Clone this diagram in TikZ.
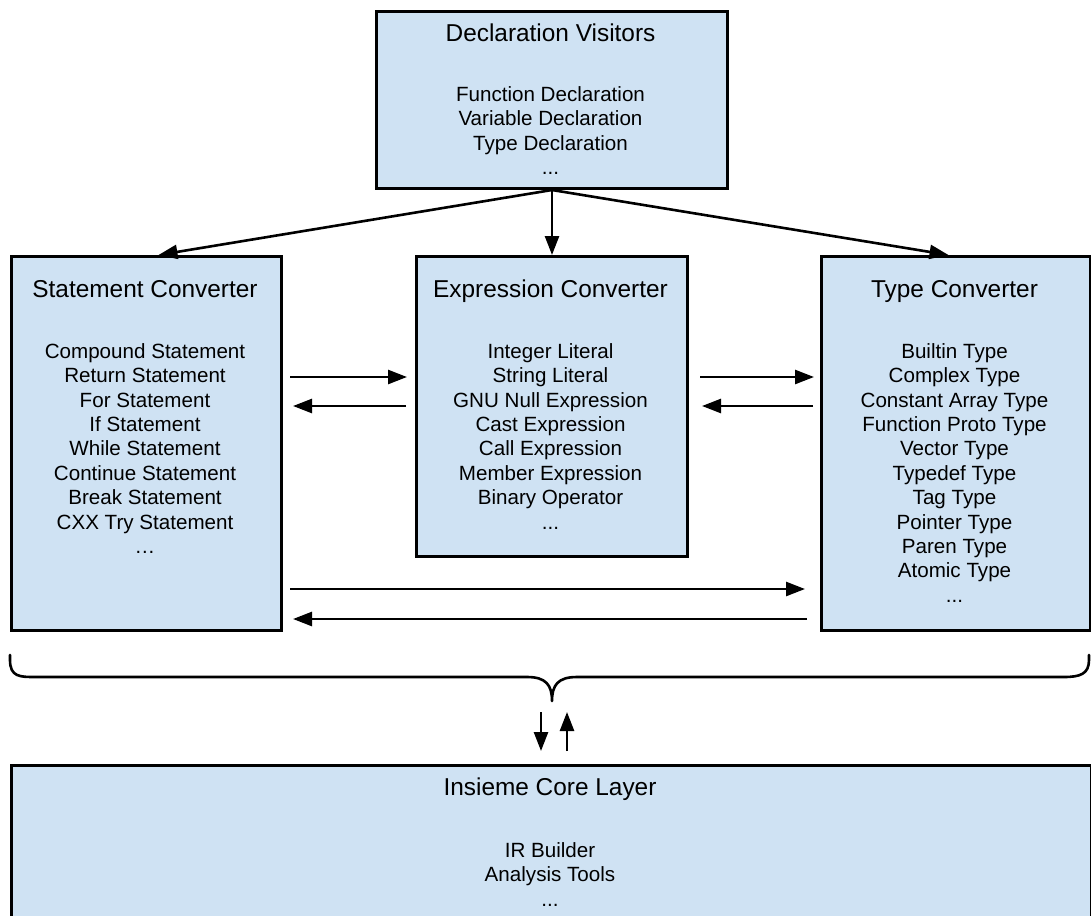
\documentclass[tikz,border=0pt]{standalone}
\usepackage{fontspec}
\setmainfont{Liberation Sans}
\usetikzlibrary{arrows.meta}
\definecolor{boxfill}{HTML}{CFE2F3}
\begin{document}
\begin{tikzpicture}[x=1pt,y=-1pt,
  box/.style={draw=black, line width=3pt, fill=boxfill, inner sep=0pt, anchor=north west},
  title/.style={anchor=base, inner sep=0pt, font=\fontsize{24.4}{29}\selectfont},
  items/.style={anchor=north, inner sep=0pt, align=center, font=\fontsize{20.6}{24.4}\selectfont},
  link/.style={line width=2.6pt, -{Triangle[length=19pt,width=14pt]}},
  brace/.style={line width=2.6pt, line join=round, line cap=round}]
\useasboundingbox (0,0) rectangle (1091,915);

% boxes
\node[box, minimum width=351pt, minimum height=177pt] (decl) at (375,10) {};
\node[box, minimum width=270pt, minimum height=374pt] (stmt) at (10,255) {};
\node[box, minimum width=271pt, minimum height=300pt] (expr) at (415,255) {};
\node[box, minimum width=269pt, minimum height=374pt] (type) at (820,255) {};
\node[box, minimum width=1080pt, minimum height=180pt] (core) at (10,764) {};

% titles and entries
\node[title] (declT) at (550.5,42) {Declaration Visitors};
\node[items] (declL) at (550.5,86.2) {Function Declaration\\Variable Declaration\\Type Declaration\\...};

\node[title] (stmtT) at (145,297) {Statement Converter};
\node[items] (stmtL) at (145,343.2) {Compound Statement\\Return Statement\\For Statement\\If Statement\\While Statement\\Continue Statement\\Break Statement\\CXX Try Statement\\…};

\node[title] (exprT) at (550.5,297) {Expression Converter};
\node[items] (exprL) at (550.5,343.2) {Integer Literal\\String Literal\\GNU Null Expression\\Cast Expression\\Call Expression\\Member Expression\\Binary Operator\\...};

\node[title] (typeT) at (954.5,297) {Type Converter};
\node[items] (typeL) at (954.5,343.2) {Builtin Type\\Complex Type\\Constant Array Type\\Function Proto Type\\Vector Type\\Typedef Type\\Tag Type\\Pointer Type\\Paren Type\\Atomic Type\\...};

\node[title] (coreT) at (550,795) {Insieme Core Layer};
\node[items] (coreL) at (550,842.2) {IR Builder\\Analysis Tools\\...};

% declaration visitors dispatch
\draw[link] (decl.south) -- ([xshift=12pt]stmt.north);
\draw[link] (decl.south) -- (expr.north);
\draw[link] (decl.south) -- ([xshift=-7.5pt]type.north);

% statement <-> expression
\draw[link] ([xshift=7pt,yshift=-122pt]stmt.north east) -- ([xshift=-8pt,yshift=-122pt]expr.north west);
\draw[link] ([xshift=-9pt,yshift=-151pt]expr.north west) -- ([xshift=10pt,yshift=-151pt]stmt.north east);

% expression <-> type
\draw[link] ([xshift=11pt,yshift=-122pt]expr.north east) -- ([xshift=-6pt,yshift=-122pt]type.north west);
\draw[link] ([xshift=-7pt,yshift=-151pt]type.north west) -- ([xshift=13pt,yshift=-151pt]expr.north east);

% statement <-> type
\draw[link] ([xshift=7pt,yshift=-334pt]stmt.north east) -- ([xshift=-15pt,yshift=-334pt]type.north west);
\draw[link] ([xshift=-13pt,yshift=-364pt]type.north west) -- ([xshift=10pt,yshift=-364pt]stmt.north east);

% brace grouping the converters
\coordinate (braceL) at (10,655);
\coordinate (braceTip) at (552,701);
\coordinate (braceR) at (1089,655);
\draw[brace] (braceL) -- (10,660) .. controls (10,677) and (20,677) .. (35,677)
  -- (527,677) .. controls (546,677) and (552,685) .. (braceTip)
  .. controls (552,685) and (558,677) .. (577,677)
  -- (1064,677) .. controls (1080,677) and (1089,674) .. (1089,660) -- (braceR);

% exchange with the core layer
\coordinate (downTop) at (541,712);
\coordinate (upTop) at (567,712);
\draw[link] (downTop) -- ([yshift=13pt]downTop |- core.north);
\draw[link] ([yshift=13pt]upTop |- core.north) -- (upTop);
\end{tikzpicture}
\end{document}
